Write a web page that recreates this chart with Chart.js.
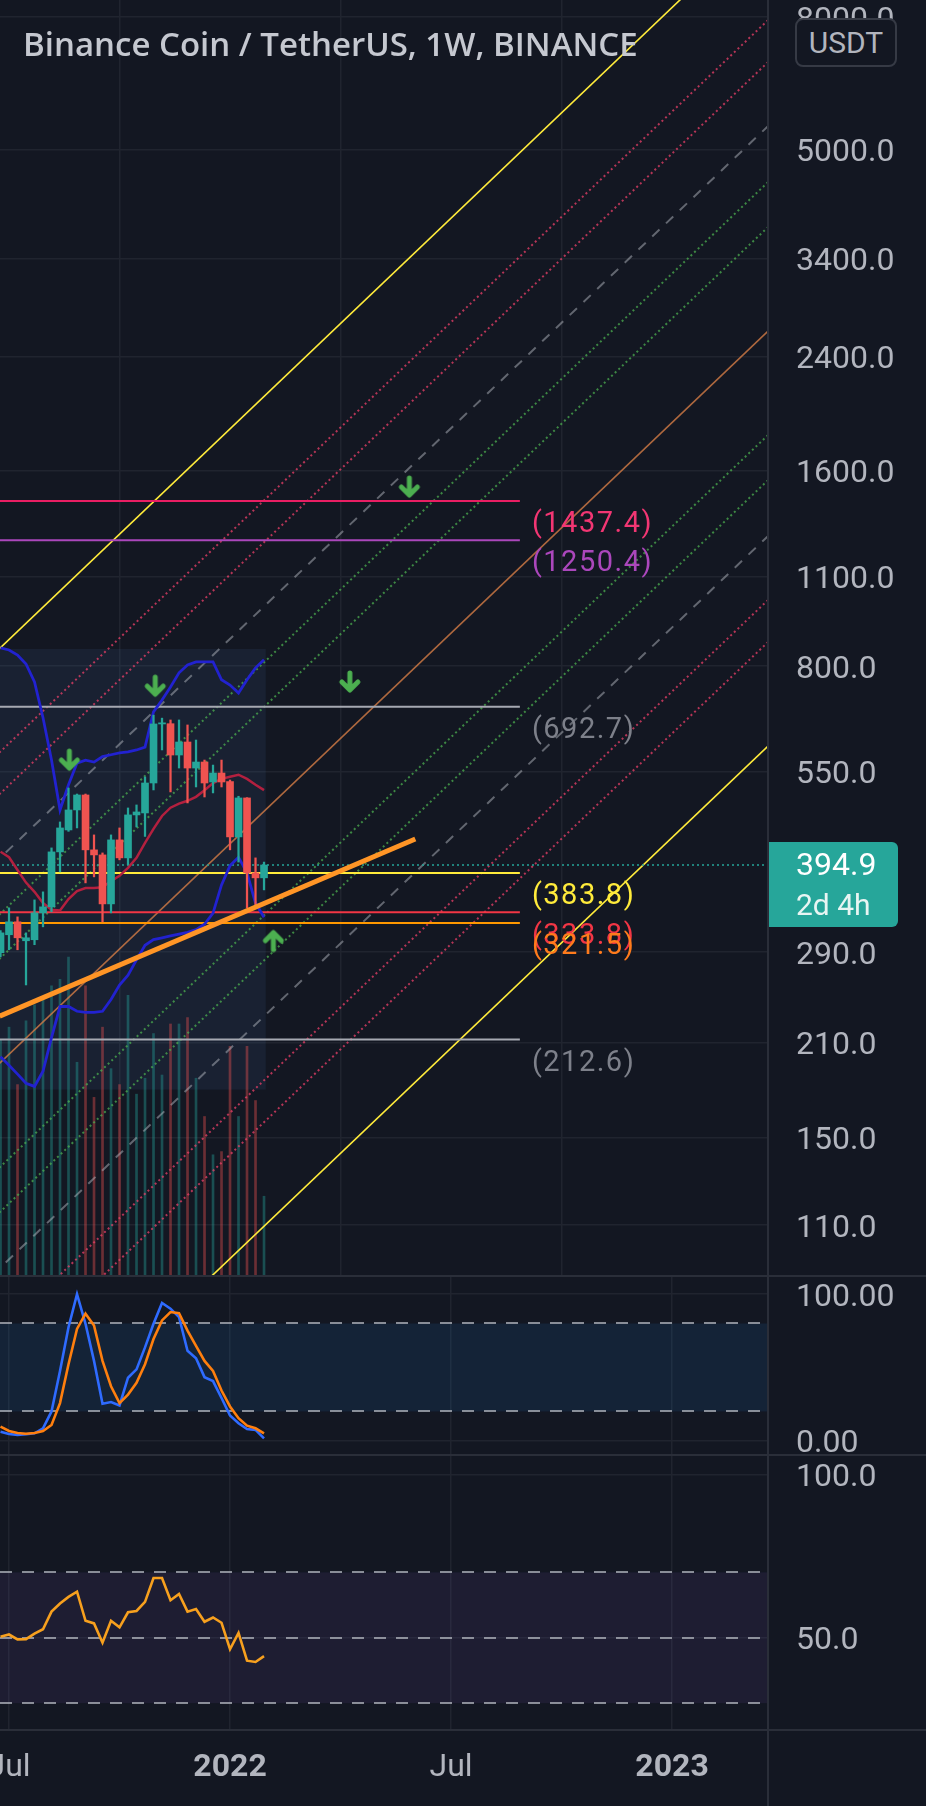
<!DOCTYPE html>
<html>
<head>
<meta charset="utf-8">
<title>BNB / USDT 1W</title>
<script src="https://cdn.jsdelivr.net/npm/chart.js@4.4.1/dist/chart.umd.min.js"></script>
<style>
  html, body { margin: 0; padding: 0; background: #131722; overflow: hidden; }
  #page { position: relative; width: 926px; height: 1806px; background: #131722; }
  #page canvas { position: absolute; left: 0; }
  #title { position: absolute; left: 23px; top: 24px; font: 600 33px "Open Sans"; line-height: 40px; color: #c5c8d0; white-space: nowrap; }
  #unit { position: absolute; left: 795px; top: 18px; width: 102px; height: 49px; box-sizing: border-box;
          border: 2px solid #363a45; border-radius: 8px; background: #131722; color: #b2b5be;
          font: 30px Roboto; line-height: 45px; text-align: center; }
  .sep { position: absolute; background: #2a2e39; }
</style>
</head>
<body>
<div id="page">
  <canvas id="priceChart" width="926" height="1276" style="top:0"></canvas>
  <canvas id="stochChart" width="926" height="179" style="top:1276px"></canvas>
  <canvas id="rsiChart" width="926" height="351" style="top:1455px"></canvas>
  <div class="sep" style="left:0;top:1275px;width:926px;height:2px"></div>
  <div class="sep" style="left:0;top:1454px;width:926px;height:2px"></div>
  <div class="sep" style="left:0;top:1729px;width:926px;height:2px"></div>
  <div class="sep" style="left:767px;top:0;width:2px;height:1806px"></div>
  <div id="title">Binance Coin / TetherUS, 1W, BINANCE</div>
  <div id="unit">USDT</div>
</div>
<script>
// x = weeks counted from the first bar of 2022 (week of Jan 3)
const weeks = [-27,-26,-25,-24,-23,-22,-21,-20,-19,-18,-17,-16,-15,-14,-13,-12,-11,-10,-9,-8,-7,-6,-5,-4,-3,-2,-1,0,1,2,3,4];
const open  = [289.3,308.3,322.8,301.8,302.9,333.2,340.4,413.7,447.2,480.1,506.3,416.7,409.3,344.0,431.7,405.0,471.7,475.0,528.3,651.4,652.0,583.4,611.0,557.1,569.1,530.2,547.3,531.0,436.3,501.0,384.0,377.3];
const high  = [313.0,339.2,328.5,310.4,348.9,359.0,419.6,460.1,519.0,508.0,508.0,439.4,412.2,439.4,450.4,483.5,488.7,539.6,672.0,665.0,660.7,660.7,649.1,615.3,573.1,563.0,573.1,533.9,504.0,501.5,405.0,399.0];
const low   = [285.0,292.3,292.3,258.0,297.6,317.1,334.4,385.4,445.0,450.4,370.6,378.6,322.8,333.2,402.2,395.0,452.0,437.0,515.4,594.0,511.8,557.1,492.2,520.9,502.7,510.0,520.9,416.7,399.0,339.2,339.2,361.5];
const close = [310.4,322.8,305.0,305.0,333.2,340.4,413.7,450.4,480.1,506.3,416.7,409.3,344.0,431.7,405.0,471.7,476.7,528.3,651.4,654.0,583.4,611.0,557.1,569.1,528.3,547.3,530.2,436.3,501.0,384.0,377.3,394.9];
const volume = [7.4,7.8,6.0,8.0,8.5,8.7,9.1,9.3,10.0,6.7,9.1,5.6,7.8,6.5,6.0,8.8,5.7,6.2,7.6,6.3,7.9,7.9,8.1,6.2,5.0,3.8,3.9,7.2,5.0,7.2,5.5,2.5];

// band indicator
const bandUpper = [853,847,832,806,756,666,573,480,525,567,573,569,580,584,588,590,594,600,680,709,743,781,803,812,812,812,762,748,727,762,795,818];
const bandBasis = [414,406,388,371,359,345,337,336,350,360,364,364,365,373,380,391,405,427,449,470,484,491,496,503,515,528,536,540,544,536,525,515];
const bandLower = [200,194,188,182,180,190,214,239,239,235,234,234,235,245,258,267,282,297,303,305,307,309,311,314,320,333,368,394,406,384,345,328];

// stochastic RSI and RSI
const stochK = [6.2,4.6,3.9,4.4,5.1,8.5,20.0,47.6,77.5,100,79.8,54.5,25.3,26.4,24.1,43.0,48.7,63.7,79.8,94.0,90.1,84.4,61.4,56.3,43.4,40.7,29.2,17.2,11.9,8.0,7.4,1.6];
const stochD = [9.7,6.7,5.3,4.8,5.3,6.7,10.8,25.7,52.2,76.3,86.7,78.6,54.5,37.2,25.7,31.5,39.5,52.2,69.4,82.1,87.8,87.1,75.2,64.8,54.5,47.6,34.3,23.4,15.4,10.3,8.5,5.1];
const rsi    = [50.3,51.0,49.5,49.6,51.3,52.6,58.0,60.5,62.5,64.1,55.2,54.4,48.5,55.2,53.2,57.8,58.2,61.0,68.3,68.3,61.5,63.4,58.0,58.8,54.9,56.2,54.6,46.5,51.5,43.0,42.6,44.4];

// axes
const timeTicks  = [-26, 0, 26, 52];
const timeLabels = ['Jul', '2022', 'Jul', '2023'];
const priceTicks = [110, 150, 210, 290, 550, 800, 1100, 1600, 2400, 3400, 5000, 8000];
const stochTicks = [0, 100];
const rsiTicks   = [50, 100];

// pitchfork lines: price at the first and at the second week
const forkWeeks = [-28, 64];
const forkStart = [830, 574, 495, 394, 323, 276, 190.4, 131.6, 112.2, 92.0, 73.3, 63.2, 43.7];
const forkEnd   = [11690, 8079, 6961, 5546, 4547, 3876, 2680, 1853, 1579, 1295, 1032, 889, 614.5];
const forkKind  = ['edge','red','red','gray','green','green','median','green','green','gray','red','red','edge'];

// horizontal levels
const levels = [1437.4, 1250.4, 692.7, 383.8, 333.8, 321.5, 212.6];
const levelWeeks = [-28, 34.1];

// thick trend line
const trendWeeks  = [-27.1, 21.8];
const trendPrices = [231, 433];

// signal arrows
const arrowDownWeeks  = [-18.9, -8.8, 14.1, 21.1];
const arrowDownPrices = [573, 745, 756, 1510];
const arrowUpWeeks  = [5.1];
const arrowUpPrices = [302];

// shaded range behind the recent bars
const rangeWeeks  = [-28, 4.2];
const rangePrices = [850, 178];

const stochGuides = [80, 20];
const rsiGuides   = [70, 50, 30];
const countdown = '2d 4h';

// ---- styling ----
const GRID = '#20242f';
const TEXT = '#b2b5be';
const VIEW = [-27.06, 63.29];
const forkStyle = {
  edge:   { color: '#ffeb3b', width: 1.6, dash: [] },
  red:    { color: 'rgba(236,64,105,0.75)', width: 2, dash: [2, 3] },
  gray:   { color: 'rgba(178,181,190,0.5)', width: 2, dash: [10, 9] },
  green:  { color: 'rgba(76,175,80,0.75)', width: 2, dash: [2, 3] },
  median: { color: 'rgba(214,125,70,0.8)', width: 1.6, dash: [] }
};
const levelColors     = ['#e91e63', '#ab47bc', '#a6a9b2', '#ffeb3b', '#f23645', '#ff9800', '#a6a9b2'];
const levelTextColors = ['#f23673', '#ab47bc', '#7d808a', '#ffeb3b', '#f23645', '#ff7b1c', '#7d808a'];

Chart.defaults.font.family = 'Roboto';
Chart.defaults.color = TEXT;

const last = close[close.length - 1];
const isUp = close.map((c, k) => c >= open[k]);
const candleColor = isUp.map(u => u ? '#26a69a' : '#ef5350');

function arrowIcon(up) {
  const c = document.createElement('canvas');
  c.width = 24; c.height = 24;
  const g = c.getContext('2d');
  g.strokeStyle = '#4caf50'; g.lineWidth = 5; g.lineCap = 'round'; g.lineJoin = 'round';
  if (!up) { g.translate(0, 24); g.scale(1, -1); }
  g.beginPath();
  g.moveTo(12, 21); g.lineTo(12, 5);
  g.moveTo(4, 12); g.lineTo(12, 4); g.lineTo(20, 12);
  g.stroke();
  return c;
}

function timeAxis(withLabels) {
  return {
    type: 'linear', min: VIEW[0], max: VIEW[1], bounds: 'data', offset: false,
    afterBuildTicks: s => { s.ticks = timeTicks.map(v => ({ value: v })); },
    afterFit: s => { s.height = withLabels ? 76 : 0; s.paddingLeft = 0; s.paddingRight = 0; },
    grid: { color: GRID, lineWidth: 1.5, drawTicks: false },
    border: { display: false },
    ticks: {
      display: withLabels, autoSkip: false, maxRotation: 0, padding: 19, color: TEXT,
      font: c => {
        const lbl = c.tick ? timeLabels[timeTicks.indexOf(c.tick.value)] : '';
        return { family: 'Roboto', size: 32, weight: /^\d+$/.test(lbl || '') ? 'bold' : 'normal' };
      },
      callback: v => timeLabels[timeTicks.indexOf(v)]
    }
  };
}

function valueAxis(type, min, max, tickValues, digits) {
  return {
    type, min, max, position: 'right', bounds: 'data',
    afterBuildTicks: s => { s.ticks = tickValues.map(v => ({ value: v })); },
    afterFit: s => { s.width = 158; s.paddingTop = 0; s.paddingBottom = 0; },
    grid: { color: GRID, lineWidth: 1.5, drawTicks: false },
    border: { display: false },
    ticks: { autoSkip: false, padding: 28, labelOffset: 3.5, color: TEXT, font: { family: 'Roboto', size: 32 },
             callback: v => Number(v).toFixed(digits) }
  };
}

const pts = (xs, ys) => xs.map((x, k) => ({ x, y: ys[k] }));

// ---- price pane ----
const priceSets = [];
priceSets.push({
  type: 'bar', yAxisID: 'yVol', data: pts(weeks, volume), grouped: false, barThickness: 2, order: 90,
  backgroundColor: isUp.map(u => u ? 'rgba(38,166,154,0.4)' : 'rgba(239,83,80,0.4)')
});
forkStart.forEach((p, k) => {
  const st = forkStyle[forkKind[k]];
  priceSets.push({ type: 'line', data: pts(forkWeeks, [p, forkEnd[k]]), borderColor: st.color,
                   borderWidth: st.width, borderDash: st.dash, order: 80 });
});
levels.forEach((v, k) => {
  priceSets.push({ type: 'line', data: pts(levelWeeks, [v, v]), borderColor: levelColors[k], borderWidth: 2, order: 70 });
});
priceSets.push({ type: 'line', data: pts(forkWeeks, [last, last]), borderColor: '#26a69a', borderWidth: 1.5, borderDash: [2, 3], order: 65 });
priceSets.push({ type: 'line', data: pts(weeks, bandUpper), borderColor: '#2222d0', borderWidth: 2.8, order: 60 });
priceSets.push({ type: 'line', data: pts(weeks, bandLower), borderColor: '#2222d0', borderWidth: 2.8, order: 60 });
priceSets.push({ type: 'line', data: pts(weeks, bandBasis), borderColor: '#b3203f', borderWidth: 2.5, order: 60 });
priceSets.push({ type: 'bar', data: weeks.map((w, k) => ({ x: w, y: [low[k], high[k]] })), backgroundColor: candleColor,
                 grouped: false, barThickness: 1.6, order: 50 });
priceSets.push({ type: 'bar', data: weeks.map((w, k) => ({ x: w, y: [open[k], close[k]] })), backgroundColor: candleColor,
                 grouped: false, barThickness: 7, order: 49 });
priceSets.push({ type: 'line', data: pts(trendWeeks, trendPrices), borderColor: '#ff9526', borderWidth: 5, order: 40 });
priceSets.push({ type: 'line', data: pts(arrowDownWeeks, arrowDownPrices), showLine: false,
                 pointStyle: arrowIcon(false), pointRadius: 12, order: 30 });
priceSets.push({ type: 'line', data: pts(arrowUpWeeks, arrowUpPrices), showLine: false,
                 pointStyle: arrowIcon(true), pointRadius: 12, order: 30 });

const rangeBox = {
  id: 'rangeBox',
  beforeDatasetsDraw(chart) {
    const { ctx, chartArea: a, scales: { x, y } } = chart;
    const l = Math.max(a.left, x.getPixelForValue(rangeWeeks[0]));
    const r = x.getPixelForValue(rangeWeeks[1]);
    const t = y.getPixelForValue(rangePrices[0]);
    const b = y.getPixelForValue(rangePrices[1]);
    ctx.save();
    ctx.fillStyle = 'rgba(80,130,200,0.10)';
    ctx.fillRect(l, t, r - l, b - t);
    ctx.restore();
  }
};

const levelLabels = {
  id: 'levelLabels',
  afterDatasetsDraw(chart) {
    const { ctx, scales: { x, y } } = chart;
    ctx.save();
    ctx.font = '29px Roboto';
    ctx.letterSpacing = '1.5px';
    ctx.textBaseline = 'middle';
    ctx.textAlign = 'left';
    const lx = x.getPixelForValue(levelWeeks[1]) + 12;
    levels.forEach((v, k) => {
      ctx.fillStyle = levelTextColors[k];
      ctx.fillText('(' + v.toFixed(1) + ')', lx, y.getPixelForValue(v) + 24);
    });
    ctx.restore();
  }
};

const priceTag = {
  id: 'priceTag',
  afterDraw(chart) {
    const { ctx, chartArea: a, scales: { y } } = chart;
    const py = y.getPixelForValue(last);
    ctx.save();
    ctx.fillStyle = '#26a69a';
    ctx.beginPath();
    ctx.roundRect(a.right - 1, py - 23, 131, 85, [0, 6, 6, 0]);
    ctx.fill();
    ctx.fillStyle = '#ffffff';
    ctx.textBaseline = 'middle';
    ctx.textAlign = 'left';
    ctx.font = '32px Roboto';
    ctx.fillText(last.toFixed(1), a.right + 28, py + 2);
    ctx.font = '30px Roboto';
    ctx.fillStyle = '#e8f5f3';
    ctx.fillText(countdown, a.right + 28, py + 42);
    ctx.restore();
  }
};

const baseOptions = {
  responsive: false,
  animation: false,
  layout: { padding: 0, autoPadding: false },
  plugins: { legend: { display: false }, tooltip: { enabled: false } },
  elements: { point: { radius: 0 }, line: { tension: 0 } },
  events: []
};

new Chart(document.getElementById('priceChart'), {
  type: 'line',
  data: { datasets: priceSets },
  options: Object.assign({}, baseOptions, {
    scales: {
      x: timeAxis(false),
      y: valueAxis('logarithmic', 91.85, 8503, priceTicks, 1),
      yVol: { type: 'linear', display: false, min: 0, max: 40 }
    }
  }),
  plugins: [rangeBox, levelLabels, priceTag]
});

// ---- indicator panes ----
function guides(id, values, fillColor) {
  return {
    id,
    beforeDatasetsDraw(chart) {
      const { ctx, chartArea: a, scales: { y } } = chart;
      const t = y.getPixelForValue(values[0]);
      const b = y.getPixelForValue(values[values.length - 1]);
      ctx.save();
      ctx.fillStyle = fillColor;
      ctx.fillRect(a.left, t, a.right - a.left, b - t);
      ctx.strokeStyle = 'rgba(178,181,190,0.75)';
      ctx.lineWidth = 2;
      ctx.setLineDash([12, 10]);
      values.forEach(v => {
        const py = Math.round(y.getPixelForValue(v));
        ctx.beginPath(); ctx.moveTo(a.left, py); ctx.lineTo(a.right, py); ctx.stroke();
      });
      ctx.restore();
    }
  };
}

new Chart(document.getElementById('stochChart'), {
  type: 'line',
  data: { datasets: [
    { data: pts(weeks, stochD), borderColor: '#ff7f0e', borderWidth: 2.6 },
    { data: pts(weeks, stochK), borderColor: '#2f6bff', borderWidth: 2.6 }
  ] },
  options: Object.assign({}, baseOptions, {
    scales: { x: timeAxis(false), y: valueAxis('linear', -9.7, 112.4, stochTicks, 2) }
  }),
  plugins: [guides('stochGuides', stochGuides, 'rgba(33,150,243,0.10)')]
});

new Chart(document.getElementById('rsiChart'), {
  type: 'line',
  data: { datasets: [
    { data: pts(weeks, rsi), borderColor: '#f7a01e', borderWidth: 2.6 }
  ] },
  options: Object.assign({}, baseOptions, {
    scales: { x: timeAxis(true), y: valueAxis('linear', 21.8, 105.9, rsiTicks, 1) }
  }),
  plugins: [guides('rsiGuides', rsiGuides, 'rgba(126,87,194,0.10)')]
});
</script>
</body>
</html>
